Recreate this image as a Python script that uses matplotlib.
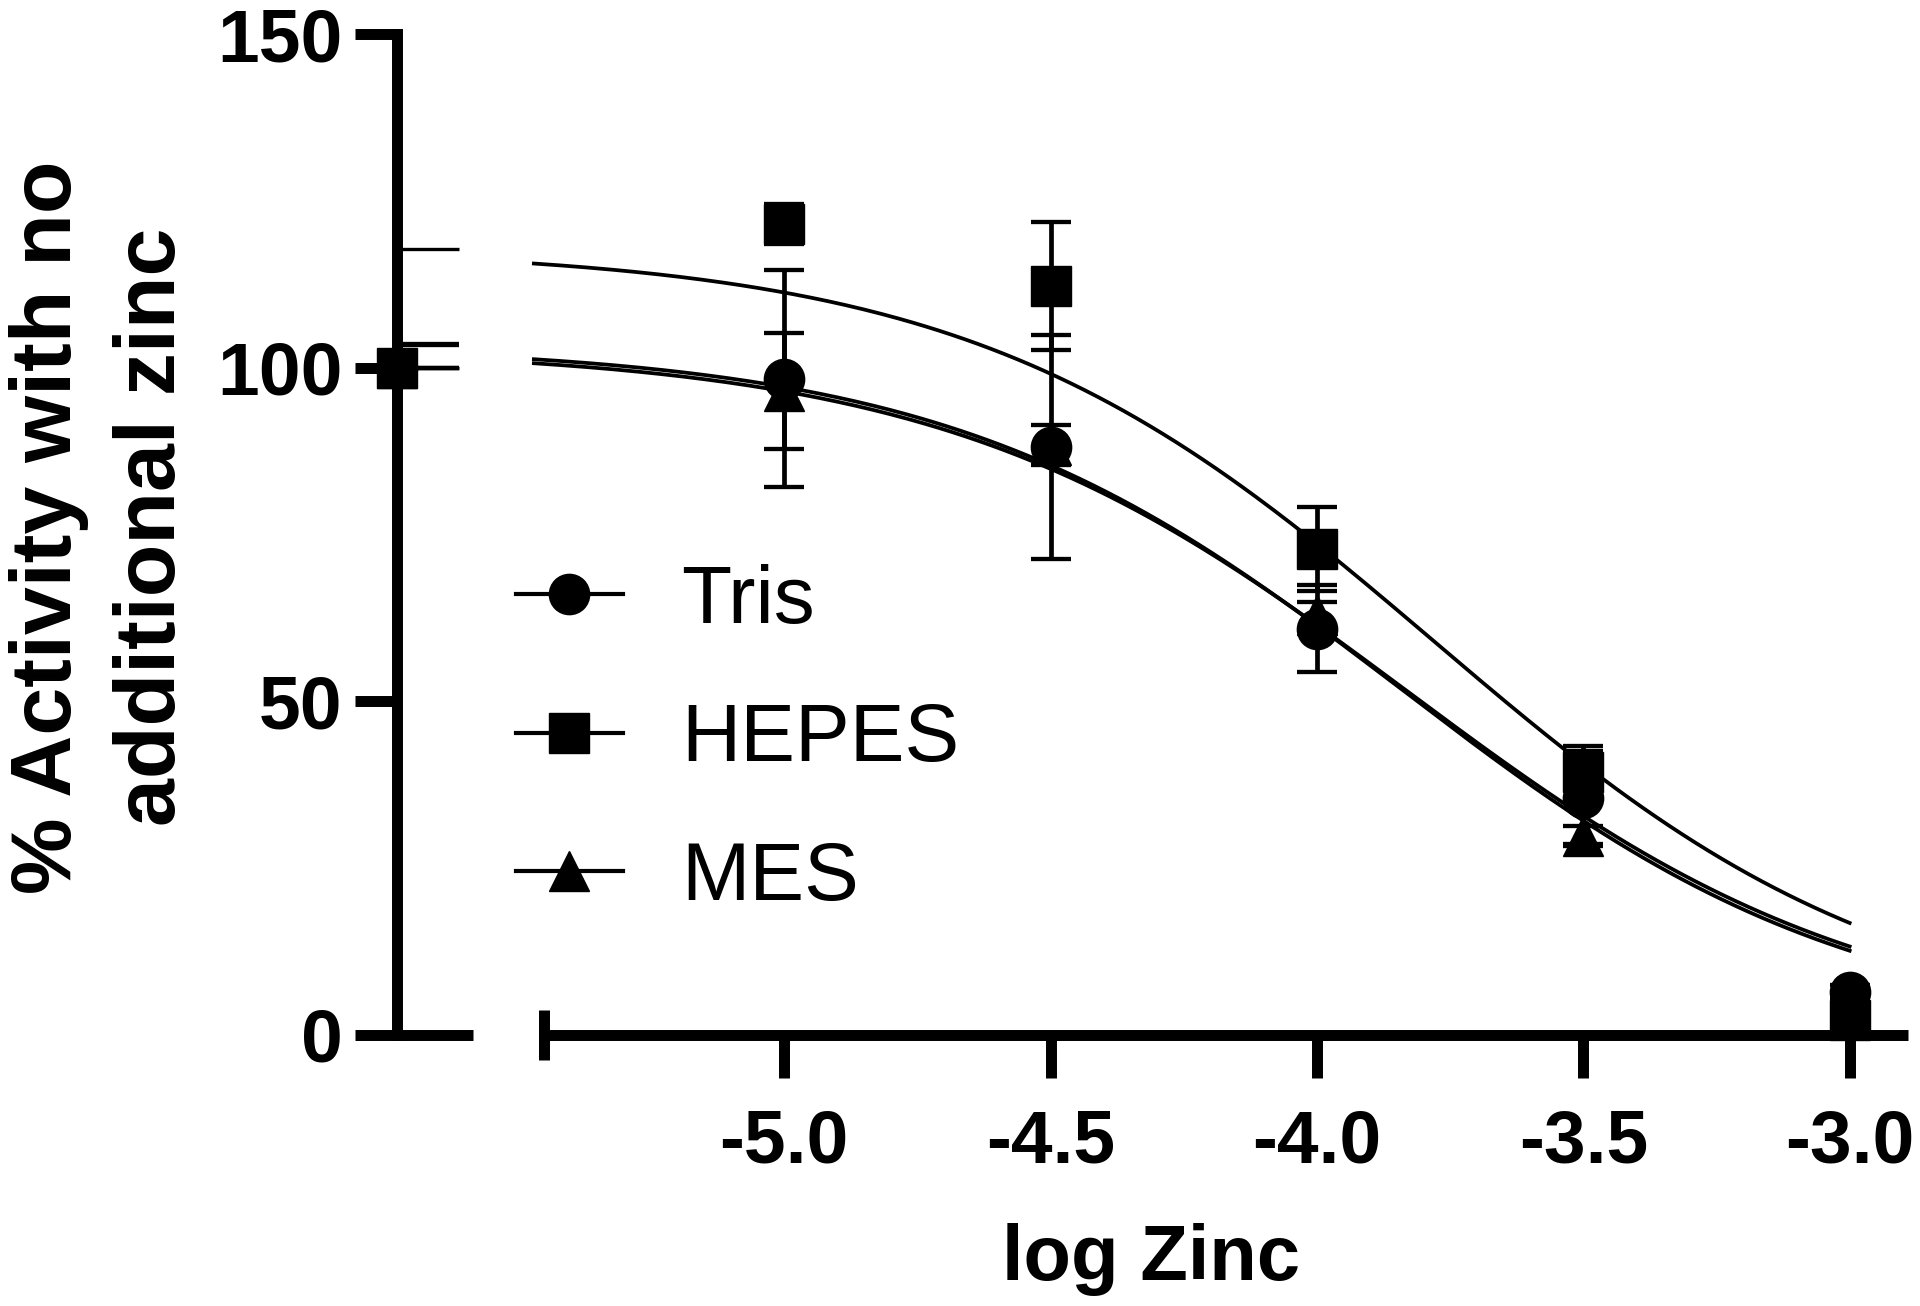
import numpy as np
import matplotlib
matplotlib.use("Agg")
import matplotlib.pyplot as plt
from matplotlib.lines import Line2D

plt.rcParams['font.family'] = ['Liberation Sans', 'DejaVu Sans']

# log[Zn] doses and mean +/- SD (% activity)
log_zinc = [-5.0, -4.5, -4.0, -3.5, -3.0]
tris_mean = [98.4, 88.2, 60.9, 35.6, 6.5]
tris_sd = [16.3, 16.8, 6.5, 6.9, 1.0]
hepes_mean = [121.5, 112.3, 72.9, 39.4, 2.3]
hepes_sd = [3.0, 9.6, 6.3, 3.9, 0.5]
mes_mean = [96.5, 88.4, 62.9, 29.8, 2.6]
mes_sd = [8.7, 3.0, 2.0, 1.5, 0.5]

# no added zinc control (only upper error shown)
ctrl_mean = 100.0
ctrl_err_up = {"Tris": 3.4, "HEPES": 17.8, "MES": 3.6}

# fitted 4PL inhibition curves: top, bottom, logIC50, hill
fits = {
    "Tris": (103.0, 0.0, -3.83, 1.0),
    "HEPES": (118.0, 0.0, -3.78, 1.0),
    "MES": (103.5, 0.0, -3.84, 1.02),
}
fit_range = (-5.47, -3.0)

markers = {"Tris": "o", "HEPES": "s", "MES": "^"}
series = {
    "Tris": (tris_mean, tris_sd),
    "HEPES": (hepes_mean, hepes_sd),
    "MES": (mes_mean, mes_sd),
}


def four_pl(x, top, bottom, logic50, hill):
    return bottom + (top - bottom) / (1 + 10 ** ((x - logic50) * hill))


W, H = 1920, 1306
fig = plt.figure(figsize=(W / 100, H / 100), dpi=100)

lw_axis = 7.9
ms = 29
elw = 3.4
cap = 14.6

# left segment (control) and main log segment
ax0 = fig.add_axes([397 / W, 1 - 1035 / H, 76 / W, (1035 - 34.3) / H])
ax = fig.add_axes([544 / W, 1 - 1035 / H, (1907.7 - 544) / W, (1035 - 34.3) / H])

for a in (ax0, ax):
    a.set_ylim(0, 150)
    a.patch.set_visible(False)
    for s in ("top", "right"):
        a.spines[s].set_visible(False)
    a.spines["bottom"].set_linewidth(lw_axis)
    a.spines["left"].set_linewidth(lw_axis)
    a.spines["bottom"].set_capstyle("butt")

# control axis
ax0.set_xlim(0, 1)
ax0.set_xticks([])
ax0.set_yticks([0, 50, 100, 150])
ax0.tick_params(axis="y", direction="out", length=30, width=lw_axis, pad=9,
                labelsize=54)
for lab in ax0.get_yticklabels():
    lab.set_fontweight("bold")

for name in ["MES", "Tris", "HEPES"]:
    ax0.errorbar([0], [ctrl_mean], yerr=[[0], [ctrl_err_up[name]]], fmt="none",
                 ecolor="black", elinewidth=elw, capsize=44.6,
                 capthick=3.1 if name != "HEPES" else 2.4)
    ax0.plot([0], [ctrl_mean], marker=markers[name], ms=ms, color="black",
             linestyle="none", clip_on=False, zorder=5)

# main axis
ax.set_xlim(-5.451, -2.891)
ax.spines["left"].set_visible(False)
ax.set_yticks([])
ax.set_xticks(log_zinc)
ax.set_xticklabels([f"{v:.1f}" for v in log_zinc], fontweight="bold", fontsize=54)
ax.tick_params(axis="x", direction="out", length=31, width=lw_axis, pad=22)
ax.set_xticks([-5.451], minor=True)
ax.tick_params(axis="x", which="minor", direction="inout", length=36, width=lw_axis)

xf = np.linspace(fit_range[0], fit_range[1], 300)
for name in ["Tris", "MES", "HEPES"]:
    ax.plot(xf, four_pl(xf, *fits[name]), color="black", lw=2.7, clip_on=False, zorder=2)

for name in ["MES", "Tris", "HEPES"]:
    mean, sd = series[name]
    ax.errorbar(log_zinc, mean, yerr=sd, fmt=markers[name], ms=ms, color="black",
                ecolor="black", elinewidth=elw, capsize=cap, capthick=3.1,
                clip_on=False, zorder=4)

# legend
handles = [Line2D([], [], color="black", lw=3.0, marker=markers[n], ms=ms)
           for n in ["Tris", "HEPES", "MES"]]
fig.legend(handles, ["Tris", "HEPES", "MES"], loc="upper left",
           bbox_to_anchor=(516 / W, 1 - 564 / H), frameon=False, fontsize=59,
           handlelength=1.3, handletextpad=0.72, labelspacing=0.76,
           borderpad=0, borderaxespad=0)

fig.text(1151 / W, 1 - 1259 / H, "log Zinc", ha="center", va="center",
         fontsize=56, fontweight="bold")
fig.text(101 / W, 1 - 527 / H, "% Activity with no\nadditional zinc", ha="center",
         va="center", rotation=90, fontsize=62, fontweight="bold",
         multialignment="center", linespacing=1.4)

fig.savefig("out.png", dpi=100)
